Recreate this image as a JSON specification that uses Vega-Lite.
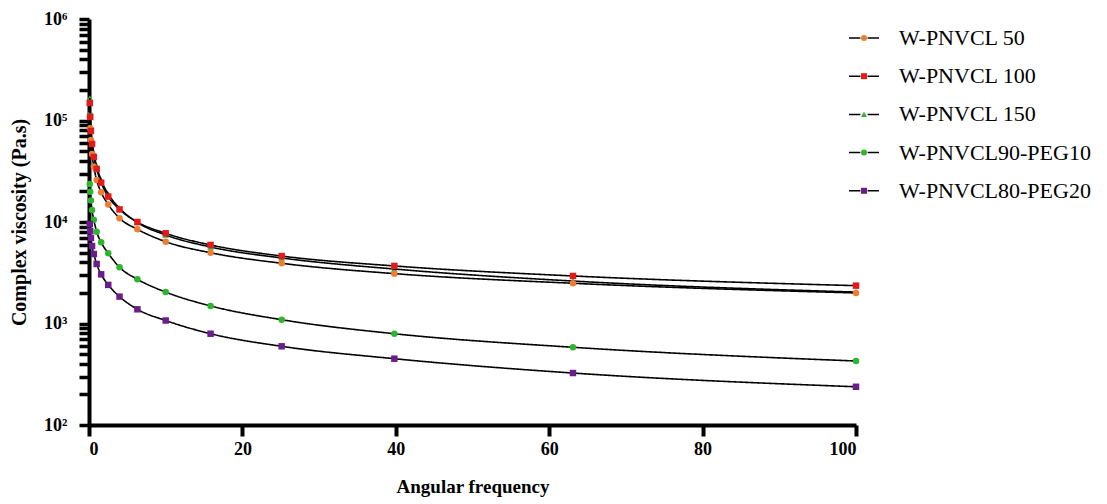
{
  "$schema": "https://vega.github.io/schema/vega-lite/v6.json",
  "width": 767,
  "height": 406,
  "autosize": "none",
  "padding": {"left": 89, "top": 19, "right": 251, "bottom": 79},
  "background": "white",
  "config": {
    "view": {"stroke": null},
    "legend": {"labelFont": "Liberation Serif", "labelColor": "black"}
  },
  "data": {"values": [
    {"series": "W-PNVCL 50", "freq": 0.1, "visc": 109000},
    {"series": "W-PNVCL 50", "freq": 0.158, "visc": 83800},
    {"series": "W-PNVCL 50", "freq": 0.251, "visc": 64300},
    {"series": "W-PNVCL 50", "freq": 0.398, "visc": 46800},
    {"series": "W-PNVCL 50", "freq": 0.631, "visc": 35100},
    {"series": "W-PNVCL 50", "freq": 1, "visc": 25900},
    {"series": "W-PNVCL 50", "freq": 1.585, "visc": 19600},
    {"series": "W-PNVCL 50", "freq": 2.512, "visc": 14900},
    {"series": "W-PNVCL 50", "freq": 3.981, "visc": 10900},
    {"series": "W-PNVCL 50", "freq": 6.31, "visc": 8480},
    {"series": "W-PNVCL 50", "freq": 10, "visc": 6400},
    {"series": "W-PNVCL 50", "freq": 15.85, "visc": 4980},
    {"series": "W-PNVCL 50", "freq": 25.12, "visc": 3920},
    {"series": "W-PNVCL 50", "freq": 39.81, "visc": 3100},
    {"series": "W-PNVCL 50", "freq": 63.1, "visc": 2490},
    {"series": "W-PNVCL 50", "freq": 100, "visc": 2000},
    {"series": "W-PNVCL 100", "freq": 0.1, "visc": 148700},
    {"series": "W-PNVCL 100", "freq": 0.158, "visc": 108300},
    {"series": "W-PNVCL 100", "freq": 0.251, "visc": 78800},
    {"series": "W-PNVCL 100", "freq": 0.398, "visc": 58700},
    {"series": "W-PNVCL 100", "freq": 0.631, "visc": 43700},
    {"series": "W-PNVCL 100", "freq": 1, "visc": 33300},
    {"series": "W-PNVCL 100", "freq": 1.585, "visc": 24400},
    {"series": "W-PNVCL 100", "freq": 2.512, "visc": 17800},
    {"series": "W-PNVCL 100", "freq": 3.981, "visc": 13300},
    {"series": "W-PNVCL 100", "freq": 6.31, "visc": 10000},
    {"series": "W-PNVCL 100", "freq": 10, "visc": 7740},
    {"series": "W-PNVCL 100", "freq": 15.85, "visc": 5940},
    {"series": "W-PNVCL 100", "freq": 25.12, "visc": 4620},
    {"series": "W-PNVCL 100", "freq": 39.81, "visc": 3690},
    {"series": "W-PNVCL 100", "freq": 63.1, "visc": 2940},
    {"series": "W-PNVCL 100", "freq": 100, "visc": 2360},
    {"series": "W-PNVCL 150", "freq": 0.1, "visc": 166600},
    {"series": "W-PNVCL 150", "freq": 0.158, "visc": 121300},
    {"series": "W-PNVCL 150", "freq": 0.251, "visc": 88300},
    {"series": "W-PNVCL 150", "freq": 0.398, "visc": 64300},
    {"series": "W-PNVCL 150", "freq": 0.631, "visc": 47800},
    {"series": "W-PNVCL 150", "freq": 1, "visc": 35600},
    {"series": "W-PNVCL 150", "freq": 1.585, "visc": 25900},
    {"series": "W-PNVCL 150", "freq": 2.512, "visc": 18900},
    {"series": "W-PNVCL 150", "freq": 3.981, "visc": 13700},
    {"series": "W-PNVCL 150", "freq": 6.31, "visc": 9890},
    {"series": "W-PNVCL 150", "freq": 10, "visc": 7450},
    {"series": "W-PNVCL 150", "freq": 15.85, "visc": 5670},
    {"series": "W-PNVCL 150", "freq": 25.12, "visc": 4420},
    {"series": "W-PNVCL 150", "freq": 39.81, "visc": 3440},
    {"series": "W-PNVCL 150", "freq": 63.1, "visc": 2620},
    {"series": "W-PNVCL 150", "freq": 100, "visc": 2040},
    {"series": "W-PNVCL90-PEG10", "freq": 0.1, "visc": 23700},
    {"series": "W-PNVCL90-PEG10", "freq": 0.158, "visc": 19900},
    {"series": "W-PNVCL90-PEG10", "freq": 0.251, "visc": 16300},
    {"series": "W-PNVCL90-PEG10", "freq": 0.398, "visc": 13100},
    {"series": "W-PNVCL90-PEG10", "freq": 0.631, "visc": 10500},
    {"series": "W-PNVCL90-PEG10", "freq": 1, "visc": 8030},
    {"series": "W-PNVCL90-PEG10", "freq": 1.585, "visc": 6310},
    {"series": "W-PNVCL90-PEG10", "freq": 2.512, "visc": 4920},
    {"series": "W-PNVCL90-PEG10", "freq": 3.981, "visc": 3580},
    {"series": "W-PNVCL90-PEG10", "freq": 6.31, "visc": 2730},
    {"series": "W-PNVCL90-PEG10", "freq": 10, "visc": 2040},
    {"series": "W-PNVCL90-PEG10", "freq": 15.85, "visc": 1490},
    {"series": "W-PNVCL90-PEG10", "freq": 25.12, "visc": 1090},
    {"series": "W-PNVCL90-PEG10", "freq": 39.81, "visc": 793},
    {"series": "W-PNVCL90-PEG10", "freq": 63.1, "visc": 583},
    {"series": "W-PNVCL90-PEG10", "freq": 100, "visc": 427},
    {"series": "W-PNVCL80-PEG20", "freq": 0.1, "visc": 9560},
    {"series": "W-PNVCL80-PEG20", "freq": 0.158, "visc": 8150},
    {"series": "W-PNVCL80-PEG20", "freq": 0.251, "visc": 6960},
    {"series": "W-PNVCL80-PEG20", "freq": 0.398, "visc": 5800},
    {"series": "W-PNVCL80-PEG20", "freq": 0.631, "visc": 4840},
    {"series": "W-PNVCL80-PEG20", "freq": 1, "visc": 3860},
    {"series": "W-PNVCL80-PEG20", "freq": 1.585, "visc": 3050},
    {"series": "W-PNVCL80-PEG20", "freq": 2.512, "visc": 2400},
    {"series": "W-PNVCL80-PEG20", "freq": 3.981, "visc": 1840},
    {"series": "W-PNVCL80-PEG20", "freq": 6.31, "visc": 1380},
    {"series": "W-PNVCL80-PEG20", "freq": 10, "visc": 1070},
    {"series": "W-PNVCL80-PEG20", "freq": 15.85, "visc": 793},
    {"series": "W-PNVCL80-PEG20", "freq": 25.12, "visc": 596},
    {"series": "W-PNVCL80-PEG20", "freq": 39.81, "visc": 450},
    {"series": "W-PNVCL80-PEG20", "freq": 63.1, "visc": 325},
    {"series": "W-PNVCL80-PEG20", "freq": 100, "visc": 238}
  ]},
  "encoding": {
    "x": {"field": "freq", "type": "quantitative", "scale": {"domain": [0, 100], "nice": false},
      "axis": {"values": [0, 20, 40, 60, 80, 100], "grid": false, "title": "Angular frequency", "domainColor": "black", "tickColor": "black", "domainWidth": 4, "tickWidth": 4, "tickSize": 11, "labelPadding": 4, "labelFont": "Liberation Serif", "labelColor": "black", "labelFontSize": 18, "labelFontWeight": "bold", "titleFont": "Liberation Serif", "titleColor": "black", "titleFontSize": 19, "titleFontWeight": "bold", "titlePadding": 19}},
    "y": {"field": "visc", "type": "quantitative", "scale": {"type": "log", "domain": [100, 1000000], "nice": false},
      "axis": {
        "values": [100, 200, 300, 400, 500, 600, 700, 800, 900, 1000, 2000, 3000, 4000, 5000, 6000, 7000, 8000, 9000, 10000, 20000, 30000, 40000, 50000, 60000, 70000, 80000, 90000, 100000, 200000, 300000, 400000, 500000, 600000, 700000, 800000, 900000, 1000000],
        "labelExpr": "abs(log(datum.value)/LN10 - round(log(datum.value)/LN10)) < 0.001 ? '10' + substring('⁰¹²³⁴⁵⁶⁷⁸⁹', round(log(datum.value)/LN10), round(log(datum.value)/LN10) + 1) : ''",
        "labelOverlap": false,
        "grid": false,
        "domainColor": "black", "tickColor": "black",
        "tickSize": 10,
        "tickWidth": 3.5,
        "domainWidth": 4,
        "labelPadding": 12,
        "labelFont": "Liberation Serif", "labelColor": "black",
        "labelFontSize": 18,
        "labelFontWeight": "bold",
        "title": "Complex viscosity (Pa.s)",
        "titleFont": "Liberation Serif", "titleColor": "black",
        "titleFontSize": 20,
        "titleFontWeight": "bold",
        "titlePadding": 14
      }}
  },
  "layer": [
    {
      "transform": [{"filter": "datum.series == 'W-PNVCL 150'"}],
      "mark": {"type": "point", "filled": true, "size": 42, "opacity": 1, "strokeWidth": 0},
      "encoding": {
        "fill": {"field": "series", "type": "nominal", "scale": {"domain": ["W-PNVCL 50", "W-PNVCL 100", "W-PNVCL 150", "W-PNVCL90-PEG10", "W-PNVCL80-PEG20"], "range": ["#ED7D31", "#E31A1C", "#2EAF3A", "#2DB52D", "#6A1E8C"]}},
        "shape": {"field": "series", "type": "nominal", "scale": {"domain": ["W-PNVCL 50", "W-PNVCL 100", "W-PNVCL 150", "W-PNVCL90-PEG10", "W-PNVCL80-PEG20"], "range": ["circle", "square", "triangle-up", "circle", "square"]}}
      }
    },
    {
      "mark": {"type": "line", "interpolate": "monotone", "color": "black", "strokeWidth": 1.6},
      "encoding": {
        "strokeDash": {"field": "series", "type": "nominal", "sort": null, "scale": {"range": [[1, 0], [1, 0], [1, 0], [1, 0], [1, 0]]},
          "legend": {"title": null, "orient": "none", "legendX": 764, "legendY": 8, "symbolType": "M-5,0H-1.2M1.2,0H5", "symbolSize": 36, "symbolStrokeWidth": 1.5, "symbolStrokeColor": "black", "labelFontSize": 22, "labelOffset": 24, "labelLimit": 400, "rowPadding": 16.2}}
      }
    },
    {
      "transform": [{"filter": "datum.series != 'W-PNVCL 150'"}],
      "mark": {"type": "point", "filled": true, "size": 42, "opacity": 1, "strokeWidth": 0},
      "encoding": {
        "fill": {"field": "series", "type": "nominal", "scale": {"domain": ["W-PNVCL 50", "W-PNVCL 100", "W-PNVCL 150", "W-PNVCL90-PEG10", "W-PNVCL80-PEG20"], "range": ["#ED7D31", "#E31A1C", "#2EAF3A", "#2DB52D", "#6A1E8C"]},
          "legend": {"title": null, "orient": "none", "legendX": 764, "legendY": 8, "symbolSize": 36, "symbolStrokeWidth": 0, "labelFontSize": 22, "labelOffset": 24, "labelLimit": 400, "labelOpacity": 0, "rowPadding": 16.2}},
        "shape": {"field": "series", "type": "nominal", "scale": {"domain": ["W-PNVCL 50", "W-PNVCL 100", "W-PNVCL 150", "W-PNVCL90-PEG10", "W-PNVCL80-PEG20"], "range": ["circle", "square", "triangle-up", "circle", "square"]}}
      }
    }
  ]
}
